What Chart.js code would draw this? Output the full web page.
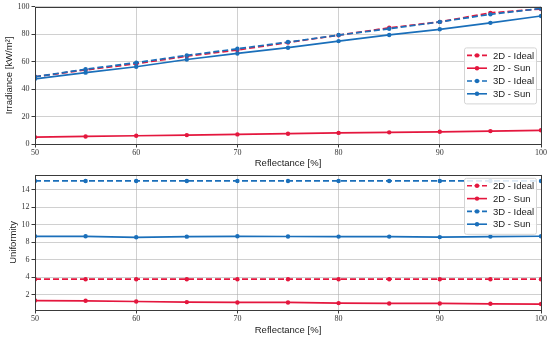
<!DOCTYPE html>
<html>
<head>
<meta charset="utf-8">
<script src="https://cdn.jsdelivr.net/npm/chart.js@4"></script>
<style>
html,body{margin:0;padding:0;background:#fff;width:550px;height:339px;overflow:hidden;}
.box{position:absolute;left:0;width:550px;}
</style>
</head>
<body>
<div class="box" style="top:0;height:170px;"><canvas id="c1" width="550" height="170"></canvas></div>
<div class="box" style="top:168px;height:171px;"><canvas id="c2" width="550" height="171"></canvas></div>
<script>
const reflectance = [50,55,60,65,70,75,80,85,90,95,100];
const xTicks = [50,60,70,80,90,100];
const seriesNames = ['2D - Ideal','2D - Sun','3D - Ideal','3D - Sun'];

const irr2DIdeal = [49,54,58.5,64,68.5,74,79.3,84.7,89,95.6,98.4];
const irr2DSun   = [5,5.5,6,6.5,7,7.5,8.1,8.5,8.9,9.4,10];
const irr3DIdeal = [49,54.5,59.3,64.6,69.4,74.3,79.4,84,89,94.5,98.8];
const irr3DSun   = [47.5,52,56.3,61.6,66,70.2,75,79.5,83.6,88.3,93.3];
const irrTicks = [0,20,40,60,80,100];

const uni2DIdeal = [3.77,3.77,3.77,3.77,3.77,3.77,3.77,3.77,3.77,3.77,3.77];
const uni2DSun   = [1.33,1.30,1.22,1.15,1.11,1.11,1.04,1.00,1.00,0.96,0.93];
const uni3DIdeal = [15,15,15,15,15,15,15,15,15,15,15];
const uni3DSun   = [8.67,8.67,8.56,8.63,8.67,8.65,8.64,8.64,8.58,8.64,8.68];
const uniTicks = [2,4,6,8,10,12,14];

const RED = '#e4173e';
const BLUE = '#1a6fba';
const colors = [RED, RED, BLUE, BLUE];
const dashes = [[6,3],[],[6,3],[]];
const orders = [4,3,2,1];

function makeDatasets(arrs){
  return arrs.map((a,i)=>({
    label: seriesNames[i],
    data: a,
    borderColor: colors[i],
    backgroundColor: colors[i],
    pointBackgroundColor: colors[i],
    pointBorderColor: colors[i],
    borderWidth: 1.7,
    borderDash: dashes[i],
    pointRadius: 2.2,
    pointBorderWidth: 0,
    order: orders[i],
    tension: 0,
    fill: false
  }));
}

const framePlugin = {
  id: 'frameLegend',
  afterDraw(chart, args, opts){
    const ctx = chart.ctx, ca = chart.chartArea;
    ctx.save();
    ctx.strokeStyle = '#3a3a3a';
    ctx.lineWidth = 1;
    ctx.strokeRect(Math.round(ca.left)+0.5, Math.round(ca.top)+0.5, Math.round(ca.right-ca.left), Math.round(ca.bottom-ca.top));
    // legend
    const w = 72, h = 56;
    const x0 = ca.right - 5 - w;
    const y0 = opts.pos === 'center' ? (ca.top+ca.bottom)/2 - h/2 : ca.top + 3;
    ctx.fillStyle = 'rgba(255,255,255,0.85)';
    ctx.strokeStyle = '#d4d4d4';
    ctx.lineWidth = 1;
    ctx.beginPath();
    if (ctx.roundRect) ctx.roundRect(x0+0.5, y0+0.5, w, h, 2); else ctx.rect(x0+0.5,y0+0.5,w,h);
    ctx.fill(); ctx.stroke();
    ctx.font = '9.5px "Liberation Sans"';
    ctx.textBaseline = 'middle';
    seriesNames.forEach((n,i)=>{
      const yy = y0 + 8 + i*12.8;
      ctx.strokeStyle = colors[i];
      ctx.lineWidth = 1.6;
      ctx.setLineDash(i % 2 === 0 ? [5,2.5] : []);
      ctx.beginPath(); ctx.moveTo(x0+3, yy); ctx.lineTo(x0+23, yy); ctx.stroke();
      ctx.setLineDash([]);
      ctx.fillStyle = colors[i];
      ctx.beginPath(); ctx.arc(x0+13, yy, 2.2, 0, Math.PI*2); ctx.fill();
      ctx.fillStyle = '#222';
      ctx.fillText(n, x0+29, yy+0.5);
    });
    ctx.restore();
  }
};

function makeChart(id, arrs, yMin, yMax, yTicks, yTitle, yTitlePad, xAxisH, xTitlePadB, topPad, legendPos){
  return new Chart(document.getElementById(id), {
    type: 'line',
    data: { labels: reflectance, datasets: makeDatasets(arrs) },
    plugins: [framePlugin],
    options: {
      responsive: false,
      animation: false,
      devicePixelRatio: 1,
      layout: { padding: { left: 0, right: 9, top: topPad, bottom: 0 } },
      plugins: {
        legend: { display: false },
        tooltip: { enabled: false },
        frameLegend: { pos: legendPos }
      },
      scales: {
        x: {
          type: 'linear',
          min: 50, max: 100,
          afterBuildTicks: s => { s.ticks = xTicks.map(v=>({value:v})); },
          afterFit: s => { s.height = xAxisH; },
          border: { display: false },
          grid: { color: 'rgba(170,170,170,0.55)', lineWidth: 1, drawTicks: true, tickLength: 3.5, tickColor: '#3a3a3a', tickWidth: 1 },
          ticks: { font: { family: '"Liberation Serif"', size: 8 }, color: '#333', padding: 1, maxRotation: 0, autoSkip: false },
          title: { display: true, text: 'Reflectance [%]', font: { family: '"Liberation Sans"', size: 9.5 }, color: '#222', padding: { top: 0, bottom: xTitlePadB } }
        },
        y: {
          type: 'linear',
          min: yMin, max: yMax,
          afterBuildTicks: s => { s.ticks = yTicks.map(v=>({value:v})); },
          afterFit: s => { s.width = 35; },
          border: { display: false },
          grid: { color: 'rgba(170,170,170,0.55)', lineWidth: 1, drawTicks: true, tickLength: 3.5, tickColor: '#3a3a3a', tickWidth: 1 },
          ticks: { font: { family: '"Liberation Serif"', size: 8 }, color: '#333', padding: 2, autoSkip: false },
          title: { display: true, text: yTitle, font: { family: '"Liberation Sans"', size: 9.5 }, color: '#222', padding: { top: yTitlePad, bottom: 0 } }
        }
      }
    }
  });
}

makeChart('c1', [irr2DIdeal, irr2DSun, irr3DIdeal, irr3DSun], 0, 100, irrTicks, 'Irradiance [kW/m²]', 4, 26, 1, 5, 'center');
makeChart('c2', [uni2DIdeal, uni2DSun, uni3DIdeal, uni3DSun], 0.25, 15.7, uniTicks, 'Uniformity', 8, 29, 3, 4, 'upper');
</script>
</body>
</html>
